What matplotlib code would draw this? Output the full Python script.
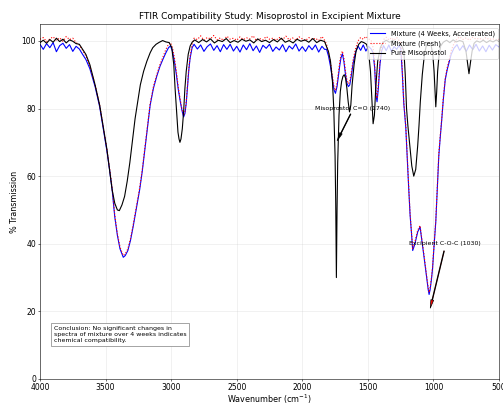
import matplotlib
matplotlib.use("Agg")
from matplotlib import pyplot as plt

# Pure Misoprostol (reference spectrum)
wn_pure = [4000, 3975, 3950, 3925, 3900, 3875, 3850, 3825, 3800, 3775, 3750, 3725,
           3700, 3675, 3650, 3620, 3580, 3545, 3515, 3490, 3470, 3450, 3430, 3410,
           3395, 3375, 3355, 3335, 3315, 3295, 3275, 3255, 3235, 3210, 3185, 3160,
           3140, 3115, 3090, 3065, 3040, 3015, 2995, 2980, 2970, 2958, 2948, 2940,
           2933, 2925, 2915, 2905, 2895, 2885, 2870, 2855, 2840, 2820,
           2790, 2760, 2730, 2700, 2670, 2640, 2610, 2580, 2550, 2520, 2490, 2460,
           2430, 2400, 2370, 2340, 2310, 2280, 2250, 2220, 2190, 2160, 2130, 2100,
           2070, 2040, 2010, 1980, 1950, 1920, 1890, 1860, 1830,
           1800, 1785, 1770, 1760, 1750, 1745, 1740, 1735, 1730, 1720, 1710, 1700,
           1690, 1680, 1670, 1660, 1650, 1640, 1630, 1620, 1605, 1590, 1570, 1550,
           1530, 1510, 1495, 1480, 1470, 1460, 1450, 1440, 1425, 1405, 1385, 1360,
           1335, 1310, 1285, 1260, 1240, 1225, 1215, 1205, 1195, 1180, 1165, 1150,
           1135, 1120, 1110, 1100, 1085, 1070, 1055, 1040, 1020, 1005, 995, 988,
           982, 975, 968, 958, 945, 925, 900, 875, 850, 825, 800, 775, 752, 740,
           729, 718, 705, 690, 670, 645, 620, 595, 570, 545, 520, 500]
t_pure = [99.5, 100.2, 99.3, 100.4, 99.6, 100.8, 99.8, 100.5, 99.4, 100.3, 99.9, 99.2,
          99.0, 97.5, 96.0, 93.0, 87.0, 81.0, 74.0, 68.0, 62.0, 56.0, 52.0, 50.0,
          49.8, 51.5, 54.0, 58.5, 64.0, 70.5, 77.0, 82.0, 87.0, 91.0, 94.0, 96.5,
          98.0, 99.0, 99.6, 100.1, 99.7, 99.5, 98.0, 93.0, 86.0, 79.0, 73.0, 71.0,
          70.0, 71.0, 74.0, 79.0, 86.0, 91.0, 96.0, 98.5, 99.6, 100.3,
          99.5, 100.4, 99.7, 100.6, 99.4, 100.2, 99.8, 100.7, 99.5, 100.1, 99.6, 100.5,
          99.9, 100.3, 99.4, 100.6, 99.8, 100.2, 99.5, 100.4, 99.7, 100.8, 99.6, 100.1,
          99.4, 100.5, 99.9, 100.3, 99.6, 100.7, 99.5, 100.2, 99.8,
          96.8, 94.0, 88.0, 80.0, 66.0, 52.0, 30.0, 50.0, 64.0, 78.0, 85.0, 88.0,
          89.5, 90.0, 89.0, 86.0, 82.0, 79.0, 81.0, 87.0, 93.0, 97.0, 99.0, 99.8,
          99.5, 99.0, 97.0, 91.0, 83.0, 75.5, 78.0, 86.0, 94.0, 98.0, 99.5, 100.2,
          99.6, 100.1, 99.7, 99.2, 98.5, 97.0, 90.0, 80.0, 75.0, 69.0, 63.0, 60.0,
          62.0, 69.0, 75.0, 82.0, 90.0, 95.5, 98.5, 99.5, 99.2, 96.0, 91.0, 85.0,
          80.5, 85.0, 91.0, 95.5, 98.5, 99.6, 100.2, 99.5, 100.3, 99.7, 100.1, 99.8,
          97.0, 93.5, 90.3, 93.5, 97.0, 99.3, 100.0, 99.6, 100.2, 99.5, 100.1, 99.7,
          100.3, 99.8]

# Mixtures (fresh and after 4 weeks accelerated)
wn_mix = [4000, 3975, 3950, 3925, 3900, 3875, 3850, 3825, 3800, 3775, 3750, 3725,
          3700, 3675, 3650, 3620, 3580, 3545, 3515, 3490, 3470, 3450, 3430, 3410,
          3390, 3375, 3365, 3350, 3330, 3310, 3290, 3265, 3240, 3220, 3200, 3180,
          3160, 3135, 3110, 3085, 3060, 3040, 3020, 3005, 2990, 2975, 2960, 2945,
          2930, 2918, 2905, 2895, 2885, 2875, 2865, 2855, 2840, 2825,
          2800, 2775, 2750, 2725, 2700, 2675, 2650, 2625, 2600, 2575, 2550, 2525,
          2500, 2475, 2450, 2425, 2400, 2375, 2350, 2325, 2300, 2275, 2250, 2225,
          2200, 2175, 2150, 2125, 2100, 2075, 2050, 2025, 2000, 1975, 1950, 1925,
          1900, 1875, 1850, 1830,
          1815, 1800, 1785, 1770, 1758, 1747, 1735, 1725, 1715, 1705, 1694, 1683,
          1672, 1660, 1648, 1638, 1625, 1612, 1595, 1575, 1555, 1535, 1515, 1495,
          1475, 1460, 1448, 1438, 1430, 1420, 1408, 1395, 1380, 1360, 1340, 1320,
          1300, 1280, 1262, 1249, 1238, 1226, 1211, 1200, 1188, 1178, 1168, 1158,
          1145, 1135, 1120, 1102, 1090, 1073, 1060, 1050, 1040, 1033, 1025, 1015,
          1007, 995, 982, 970, 959, 948, 938, 925, 910, 895, 882, 865, 844, 820,
          800, 775, 750, 725, 700, 675, 650, 625, 600, 575, 550, 525, 500]
t_fresh = [100.5, 101.0, 99.8, 100.6, 101.2, 100.2, 100.9, 99.9, 101.3, 100.4, 100.8, 99.5,
           98.8, 97.2, 95.5, 92.5, 87.0, 81.0, 74.0, 68.0, 62.5, 56.5, 48.5, 43.0,
           39.0, 37.5, 36.5, 37.0, 38.5, 41.5, 45.5, 51.0, 56.5, 62.0, 68.5, 75.0,
           81.5, 86.5, 90.0, 93.0, 95.5, 97.5, 99.0, 99.5, 98.0, 95.0, 91.0, 86.0,
           82.5, 80.0, 78.0, 79.0, 82.0, 87.0, 92.0, 95.5, 99.0, 100.8,
           100.4, 101.5, 100.2, 101.0, 100.6, 101.6, 100.3, 100.9, 100.1, 101.4, 100.5, 100.8,
           100.2, 101.2, 100.4, 100.9, 100.6, 101.5, 100.1, 100.7, 100.3, 101.3, 100.5, 100.8,
           100.2, 101.0, 100.4, 101.4, 100.3, 100.9, 100.2, 101.2, 100.6, 100.1, 101.0, 100.4,
           100.8, 100.1, 101.3, 100.2,
           99.0, 96.5, 93.5, 89.5, 86.5, 85.3, 87.5, 90.5, 93.5, 96.0, 97.0, 95.0,
           91.5, 88.5, 87.3, 88.0, 91.0, 94.5, 97.5, 100.0, 101.0, 100.5, 101.3, 100.6,
           100.2, 98.0, 93.0, 85.0, 83.0, 87.0, 94.0, 98.5, 100.4, 101.1, 100.3, 100.9,
           100.2, 101.0, 100.1, 99.5, 92.0, 82.0, 75.0, 66.0, 56.6, 49.0, 44.0, 38.6,
           40.0, 41.5, 44.0, 45.4, 42.0, 37.0, 33.0, 30.0, 27.0, 25.6, 27.0, 30.0,
           33.0, 40.0, 47.0, 57.0, 66.7, 72.0, 76.4, 83.0, 89.0, 92.0, 94.0, 97.0, 99.2, 100.6,
           101.2, 100.4, 100.9, 100.2, 101.1, 100.5, 100.8, 100.3, 101.0, 100.4, 100.7, 100.2, 100.5]
t_aged = [99.0, 97.5, 99.2, 98.0, 99.5, 96.8, 98.6, 99.3, 97.8, 98.9, 96.9, 98.4,
          97.6, 96.0, 94.5, 91.8, 86.5, 80.5, 73.5, 67.5, 62.0, 56.0, 48.0, 42.5,
          38.5, 37.0, 36.0, 36.5, 38.0, 41.0, 45.0, 50.5, 56.0, 61.5, 68.0, 74.5,
          81.0, 86.0, 89.5, 92.5, 94.8, 96.5, 98.0, 98.5, 97.0, 94.0, 90.0, 85.5,
          82.0, 79.5, 77.5, 78.5, 81.5, 86.5, 91.5, 95.0, 98.0, 99.0,
          97.6, 98.8, 96.9, 98.3, 99.1, 97.2, 98.6, 96.8, 98.9, 97.5, 99.0, 97.0,
          98.4, 96.7, 98.8, 97.4, 99.2, 97.1, 98.5, 96.6, 98.7, 97.8, 99.0, 96.9,
          98.2, 97.3, 98.9, 96.8, 98.5, 97.6, 99.1, 97.0, 98.3, 96.9, 98.6, 97.4,
          98.8, 96.7, 98.4, 97.5,
          97.5, 95.5, 92.5, 88.5, 85.5, 84.5, 86.5, 89.5, 92.5, 95.0, 96.2, 94.0,
          90.5, 87.5, 86.5, 87.0, 90.0, 93.5, 96.5, 98.5, 97.2, 98.8, 97.0, 98.4,
          97.6, 96.5, 92.0, 84.0, 82.0, 86.0, 93.0, 97.0, 98.6, 97.1, 98.8, 96.9,
          98.3, 97.5, 98.7, 97.8, 91.0, 81.5, 74.5, 65.5, 56.0, 48.5, 43.5, 38.0,
          39.5, 41.0, 43.5, 45.0, 41.5, 36.5, 32.5, 29.5, 26.5, 25.0, 26.5, 29.5,
          32.5, 39.5, 46.5, 56.5, 66.0, 71.5, 76.0, 82.5, 88.5, 91.5, 93.5, 96.0, 97.8, 98.9,
          97.2, 98.6, 96.9, 98.8, 97.4, 99.0, 97.0, 98.5, 96.8, 98.7, 97.3, 98.9, 98.2]

fig = plt.figure(figsize=(503 / 50, 405 / 50), dpi=50)
ax = fig.add_axes([40 / 503, 26 / 405, 459 / 503, 355 / 405])

ax.plot(wn_mix, t_aged, color="blue", linewidth=1.6, label="Mixture (4 Weeks, Accelerated)")
ax.plot(wn_mix, t_fresh, color="red", linestyle=":", linewidth=1.6, label="Mixture (Fresh)")
ax.plot(wn_pure, t_pure, color="black", linewidth=1.6, label="Pure Misoprostol")

ax.set_xlim(4000, 500)
ax.set_ylim(0, 105)
ax.set_xticks([4000, 3500, 3000, 2500, 2000, 1500, 1000, 500])
ax.set_yticks([0, 20, 40, 60, 80, 100])
ax.tick_params(labelsize=11, pad=2)
ax.set_xlabel("Wavenumber (cm$^{-1}$)", fontsize=11.5, labelpad=1)
ax.set_ylabel("% Transmission", fontsize=11.5)
ax.set_title("FTIR Compatibility Study: Misoprostol in Excipient Mixture", fontsize=13, pad=7)
ax.grid(True, alpha=0.3)

ax.annotate("Misoprostol C=O (1740)", xy=(1740, 70), xytext=(1620, 80),
            ha="center", va="center", fontsize=9,
            arrowprops=dict(facecolor="black", shrink=0.05, width=1, headwidth=4))
ax.annotate("Excipient C-O-C (1030)", xy=(1030, 20), xytext=(910, 40),
            ha="center", va="center", fontsize=9,
            arrowprops=dict(facecolor="red", shrink=0.05, width=1, headwidth=4))

ax.text(0.03, 0.15, "Conclusion: No significant changes in\nspectra of mixture over 4 weeks indicates\nchemical compatibility.",
        transform=ax.transAxes, fontsize=9, va="top", linespacing=1.3,
        bbox=dict(boxstyle="square,pad=0.4", facecolor="white", edgecolor="gray"))

ax.legend(loc="upper left", bbox_to_anchor=((367 - 40) / 459, (379 - 28) / 355),
          borderaxespad=0, fontsize=9.5, handlelength=2.4)

plt.savefig("out.png", dpi=50)
